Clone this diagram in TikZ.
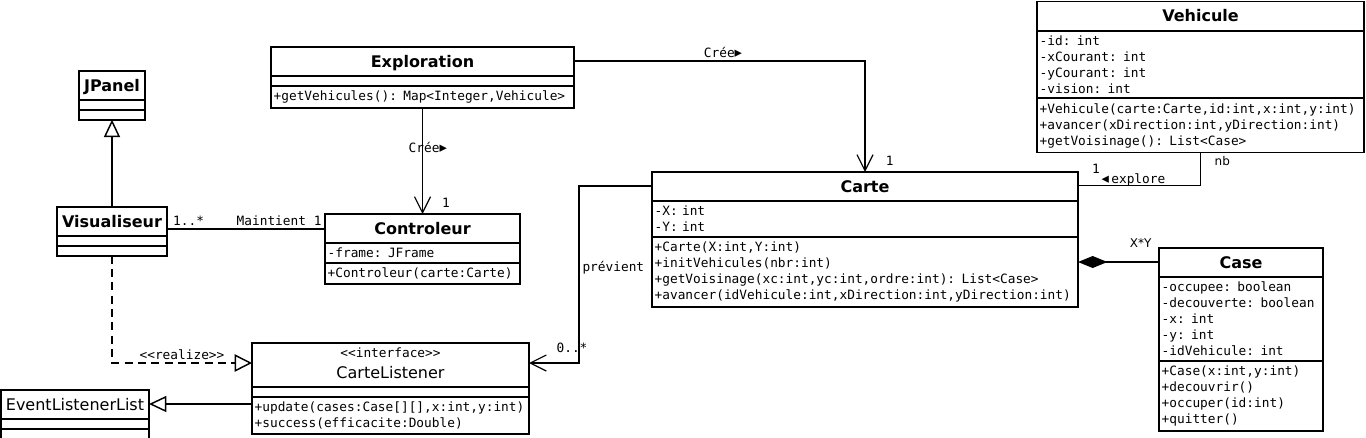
\documentclass[tikz,border=0pt]{standalone}
\usepackage{fontspec}
\setmainfont{DejaVu Sans}
\setmonofont{DejaVu Sans Mono}
\usetikzlibrary{arrows.meta,positioning,calc,shapes.multipart}

% titre d'une classe (gras, centre)
\newcommand{\cmid}[1]{\leavevmode\hspace*{\fill}#1\hspace*{\fill}\null}
\newcommand{\ctitle}[1]{\cmid{\rmfamily\bfseries\fontsize{12}{14}\selectfont
  #1\rule[-3.1pt]{0pt}{14.6pt}}}
\newcommand{\cname}[1]{\cmid{\rmfamily\fontsize{12}{14}\selectfont
  #1\rule[-3.1pt]{0pt}{14.6pt}}}
\newcommand{\dirr}{{\rmfamily\fontsize{11}{11}\selectfont▸}}
\newcommand{\dirl}{{\rmfamily\fontsize{11}{11}\selectfont◂\,}}

\begin{document}
\begin{tikzpicture}[x=0.75pt, y=-0.75pt,
      font=\ttfamily\fontsize{9.6}{12}\selectfont,
      line width=1.3pt,
      cls/.style={rectangle split, rectangle split parts=3, draw, fill=white,
                  rectangle split empty part height=0pt,
                  rectangle split empty part depth=0pt,
                  inner xsep=2pt, inner ysep=3pt, outer sep=0pt,
                  anchor=north west, text width=#1, align=left},
      lbl/.style={inner sep=2pt},
      small/.style={inner sep=2pt, font=\rmfamily\fontsize{9}{11}\selectfont},
      gen/.style={-{Triangle[open, length=13pt, width=12pt, line width=1.1pt]}},
      assoc/.style={-{Straight Barb[length=12pt, width=12pt, line width=0.9pt]}},
      comp/.style={-{Diamond[length=22pt, width=9pt]}},
      real/.style={dash pattern=on 6pt off 4pt,
                   -{Triangle[open, length=13pt, width=13pt, line width=1.1pt]}}]

    \useasboundingbox (0,0) rectangle (1366,437);

    % classes
    \node[cls=45.5pt] (jpanel) at (79,71)
      {\ctitle{JPanel}\nodepart{two}\nodepart{three}};
    \node[cls=78.5pt] (vis) at (57,207)
      {\ctitle{Visualiseur}\nodepart{two}\nodepart{three}};
    \node[cls=223.25pt] (explo) at (271,47)
      {\ctitle{Exploration}
       \nodepart{two}
       \nodepart{three}+getVehicules(): Map<Integer,Vehicule>};
    \node[cls=142.25pt] (ctrl) at (325,214)
      {\ctitle{Controleur}
       \nodepart{two}-frame: JFrame
       \nodepart{three}+Controleur(carte:Carte)};
    \node[cls=315.5pt] (carte) at (652,172)
      {\ctitle{Carte}
       \nodepart{two}-X: int\\-Y: int
       \nodepart{three}+Carte(X:int,Y:int)\\
       +initVehicules(nbr:int)\\
       +getVoisinage(xc:int,yc:int,ordre:int): List<Case>\\
       +avancer(idVehicule:int,xDirection:int,yDirection:int)};
    \node[cls=241.25pt] (veh) at (1037,1.5)
      {\ctitle{Vehicule}
       \nodepart{two}-id: int\\-xCourant: int\\-yCourant: int\\-vision: int
       \nodepart{three}+Vehicule(carte:Carte,id:int,x:int,y:int)\\
       +avancer(xDirection:int,yDirection:int)\\
       +getVoisinage(): List<Case>};
    \node[cls=119pt] (case) at (1159,248)
      {\ctitle{Case}
       \nodepart{two}-occupee: boolean\\-decouverte: boolean\\-x: int\\-y: int\\
       -idVehicule: int
       \nodepart{three}+Case(x:int,y:int)\\+decouvrir()\\+occuper(id:int)\\
       +quitter()};
    \node[cls=203.75pt] (listener) at (252,343)
      {\cmid{<<interface>>}\\[3.5pt]
       \cmid{\rmfamily\fontsize{12}{14}\selectfont CarteListener\rule[-3pt]{0pt}{0pt}}
       \nodepart{two}
       \nodepart{three}+update(cases:Case[][],x:int,y:int)\\
       +success(efficacite:Double)};
    \node[cls=107pt] (evl) at (1,390)
      {\cname{EventListenerList}\nodepart{two}\nodepart{three}};

    % heritage et realisation
    \draw[gen] (vis.north) -- (jpanel.south);
    \coordinate (lsw) at ($(listener.north west)+(0,20)$);
    \draw[real] (vis.south) |- (lsw)
      node[lbl, pos=0.75, anchor=south] {<<realize>>};
    \coordinate (evlc) at ($(evl.north east)+(0,14)$);
    \draw[gen] (evlc -| listener.west) -- (evlc);

    % associations
    \coordinate (maint) at ($(ctrl.north west)+(0,15)$);
    \draw (maint) -- (maint -| vis.east)
      node[lbl, pos=1, anchor=south west, xshift=2pt] {1..*};
    \node[lbl, anchor=south east] at (maint) {Maintient 1};

    \draw[assoc] (explo.south) -- (ctrl.north)
      node[lbl, pos=0.37, xshift=4pt] {Crée\dirr}
      node[lbl, pos=1, anchor=south west, xshift=12pt, yshift=2pt] {1};

    \draw[assoc] ($(explo.north east)+(0,14)$) -| (carte.north)
      node[lbl, pos=0.256, anchor=south] {Crée\dirr}
      node[lbl, pos=1, anchor=south west, xshift=13pt, yshift=2pt] {1};

    \coordinate (expl) at ($(carte.north east)+(0,13.5)$);
    \draw (veh.south) |- (expl)
      node[small, pos=0, anchor=north west, xshift=8pt] {nb}
      node[lbl, pos=1, anchor=south west, xshift=8pt, yshift=6pt] {1}
      node[lbl, pos=1, anchor=base west, xshift=15pt, yshift=1.5pt]
        {\dirl explore};

    \coordinate (compo) at ($(case.north west)+(0,14)$);
    \draw[comp] (compo) -- (compo -| carte.east)
      node[small, pos=0, anchor=south east, xshift=-3pt, yshift=8pt] {X*Y};

    \coordinate (prev) at ($(carte.north west)+(0,14)$);
    \coordinate (lsn) at ($(listener.north east)+(0,20)$);
    \draw[assoc] (prev) -- ++(-73,0) |- (lsn)
      node[lbl, pos=0.23, anchor=west] {prévient}
      node[lbl, pos=0.57, anchor=south, yshift=5pt] {0..*};
  \end{tikzpicture}
\end{document}
